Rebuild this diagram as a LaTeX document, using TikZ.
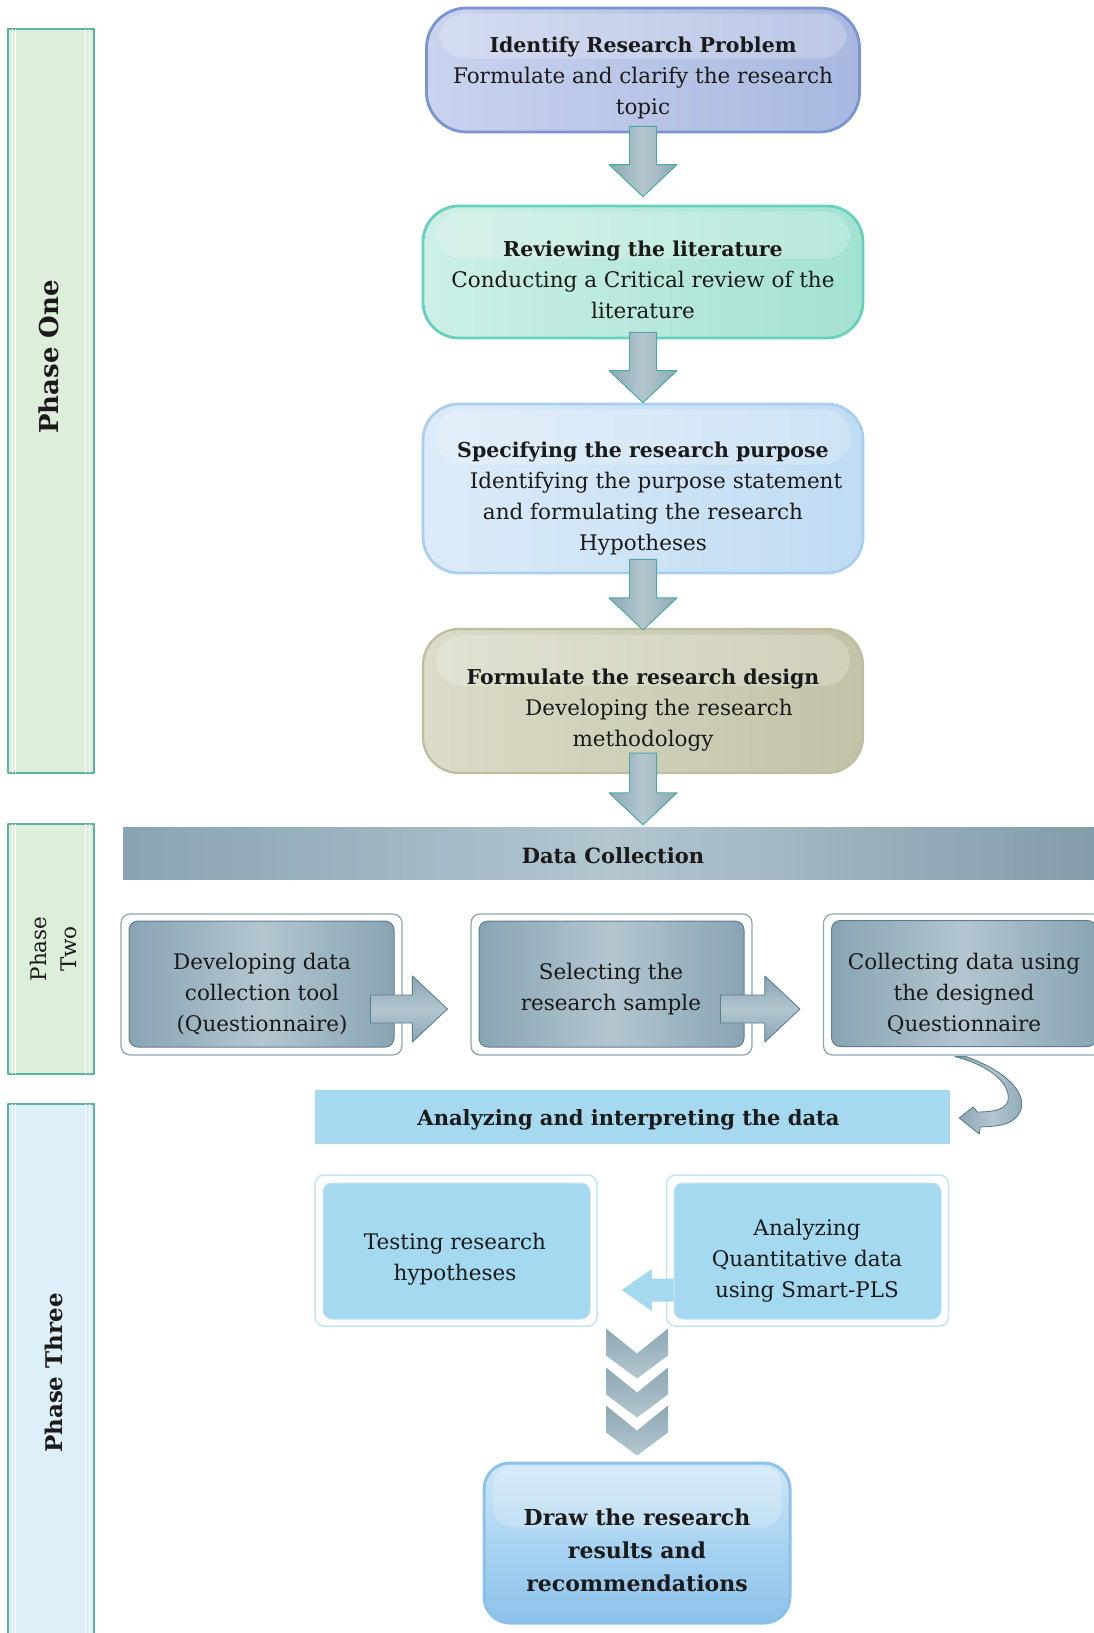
\documentclass[tikz,border=0pt]{standalone}
\usepackage{fontspec}
\setmainfont{DejaVu Serif}
\usetikzlibrary{calc}
\definecolor{phgreen}{HTML}{DDEEDA}
\definecolor{phblue}{HTML}{DDEFF8}
\definecolor{phborder}{HTML}{5AB4A6}
\definecolor{bAL}{HTML}{C9D3EE}
\definecolor{bAR}{HTML}{A8B8DF}
\definecolor{bAD}{HTML}{7A93D1}
\definecolor{bBL}{HTML}{CDEFE7}
\definecolor{bBR}{HTML}{A3E2D3}
\definecolor{bBD}{HTML}{66D2BB}
\definecolor{bCL}{HTML}{DCEBF9}
\definecolor{bCR}{HTML}{C0DCF3}
\definecolor{bCD}{HTML}{A9CFF0}
\definecolor{bDL}{HTML}{DBDBC8}
\definecolor{bDR}{HTML}{C3C2A7}
\definecolor{bDD}{HTML}{BDBD9F}
\definecolor{gbD}{HTML}{88A4B3}
\definecolor{gbL}{HTML}{B3C6D0}
\definecolor{gbB}{HTML}{5B7F8F}
\definecolor{arD}{HTML}{8DA8B4}
\definecolor{arL}{HTML}{B4C7CF}
\definecolor{arB}{HTML}{4DA9A3}
\definecolor{lb}{HTML}{A5D9EF}
\definecolor{lbB}{HTML}{C3E5F3}
\definecolor{fL}{HTML}{D0E7F8}
\definecolor{fM}{HTML}{A9D3F1}
\definecolor{fD}{HTML}{8CC2EA}
\definecolor{ink}{HTML}{1A1A1A}
\newcommand\ttl[1]{{\bfseries\fontsize{20.5}{31}\selectfont #1}}
\newcommand\blkdown[4]{%
  \draw[blkarrow] ($(#1.south)+(-13.5,#3)$) -- ($(#1.south |- #2.north)+(-13.5,#4-32)$)
   -- ($(#1.south |- #2.north)+(-34,#4-32)$) -- ($(#1.south |- #2.north)+(0,#4)$)
   -- ($(#1.south |- #2.north)+(34,#4-32)$) -- ($(#1.south |- #2.north)+(13.5,#4-32)$)
   -- ($(#1.south)+(13.5,#3)$) -- cycle;}
\newcommand\blkright[2]{%
  \draw[blkright] ($(#1.east)+(-24,11)$) -- ($(#1.east -| #2.west)+(-58,11)$)
   -- ($(#1.east -| #2.west)+(-58,-8)$) -- ($(#1.east -| #2.west)+(-23,25)$)
   -- ($(#1.east -| #2.west)+(-58,58)$) -- ($(#1.east -| #2.west)+(-58,39)$)
   -- ($(#1.east)+(-24,39)$) -- cycle;}
\newcommand\blkleft[2]{%
  \fill[lb] ($(#1.west)+(0,27.5)$) -- ($(#1.west -| #2.east)+(54,27.5)$)
   -- ($(#1.west -| #2.east)+(54,18)$) -- ($(#1.west -| #2.east)+(24,39)$)
   -- ($(#1.west -| #2.east)+(54,60)$) -- ($(#1.west -| #2.east)+(54,50.5)$)
   -- ($(#1.west)+(0,50.5)$) -- cycle;}
\newcommand\chev[2]{%
  \draw[chevron] ($(#1.north)+(-31,#2)$) -- ($(#1.north)+(0,#2+25)$) -- ($(#1.north)+(31,#2)$)
   -- ($(#1.north)+(31,#2+27)$) -- ($(#1.north)+(0,#2+50)$) -- ($(#1.north)+(-31,#2+27)$) -- cycle;}
\begin{document}
\begin{tikzpicture}[x=1pt,y=-1pt,line join=round,
  txt/.style={align=center,inner sep=0pt,text=ink,font=\fontsize{21.5}{31}\selectfont},
  bigbox/.style={rounded corners=36pt,line width=2.8pt,minimum width=440pt},
  phase/.style={draw=phborder,line width=1.4pt,minimum width=86pt},
  blkarrow/.style={draw=arB,line width=1pt,left color=arD,right color=arD,middle color=arL},
  blkright/.style={draw=gbB,line width=0.9pt,top color=gbD,bottom color=gbD,middle color=gbL},
  chevron/.style={draw=none,top color=arD,bottom color=arL},
  frameA/.style={draw=gbB!70,fill=white,line width=1.2pt,rounded corners=9pt,minimum width=281pt,minimum height=141pt},
  gbox/.style={draw=gbB,line width=1pt,rounded corners=9pt,left color=gbD,right color=gbD,middle color=gbL,minimum width=265pt,minimum height=126pt},
  frameB/.style={draw=lbB,fill=white,line width=1.5pt,rounded corners=9pt,minimum width=282pt,minimum height=151pt},
  lbox/.style={draw=lbB!80!lb,line width=1pt,fill=lb,rounded corners=9pt,minimum width=267pt,minimum height=136pt},
  gloss/.style={white,opacity=0.22}]
\useasboundingbox (0,0) rectangle (1094,1633);
\clip (0,0) rectangle (1094,1633);
\fill[white] (0,0) rectangle (1094,1633);

% phase bars
\node[phase,fill=phgreen,minimum height=744pt] (p1) at (51,401) {};
\node[phase,fill=phgreen,minimum height=250pt] (p2) at (51,949) {};
\node[phase,fill=phblue,minimum height=536pt] (p3) at (51,1372) {};
\foreach \p in {p1,p2,p3}{
  \draw[white,line width=0.8pt] ($(\p.north west)+(5,1)$) -- ($(\p.south west)+(5,-1)$);
  \draw[white,line width=0.8pt] ($(\p.north west)+(8,1)$) -- ($(\p.south west)+(8,-1)$);
  \draw[white,line width=0.8pt] ($(\p.north east)+(-5,1)$) -- ($(\p.south east)+(-5,-1)$);
  \draw[white,line width=0.8pt] ($(\p.north east)+(-9,1)$) -- ($(\p.south east)+(-9,-1)$);
}
\node[rotate=90,text=ink,font=\bfseries\fontsize{26}{30}\selectfont] (l1) at (49,357) {Phase One};
\node[rotate=90,align=center,text=ink,font=\fontsize{21.5}{30}\selectfont] (l2) at (53,949) {Phase\\Two};
\node[rotate=90,text=ink,font=\bfseries\fontsize{23}{28}\selectfont] (l3) at (54,1373) {Phase Three};

% phase one boxes
\node[bigbox,draw=bAD,left color=bAL,right color=bAR,minimum width=433pt,minimum height=124pt,rounded corners=40pt] (b1) at (643,70) {};
\fill[gloss,rounded corners=26pt] ($(b1.north west)+(14,7)$) rectangle ($(b1.north east)+(-14,52)$);
\node[txt] (t1) at ($(b1.center)+(0,8)$) {\ttl{Identify Research Problem}\\Formulate and clarify the research\\topic};

\node[bigbox,draw=bBD,left color=bBL,right color=bBR,minimum height=132pt] (b2) at (643,272) {};
\fill[gloss,rounded corners=26pt] ($(b2.north west)+(14,7)$) rectangle ($(b2.north east)+(-14,54)$);
\node[txt] (t2) at ($(b2.center)+(0,8)$) {\ttl{Reviewing the literature}\\Conducting a Critical review of the\\literature};

\node[bigbox,draw=bCD,left color=bCL,right color=bCR,minimum height=169pt] (b3) at (643,488.5) {};
\fill[gloss,rounded corners=26pt] ($(b3.north west)+(14,7)$) rectangle ($(b3.north east)+(-14,62)$);
\node[txt] (t3) at ($(b3.center)+(0,10)$) {\ttl{Specifying the research purpose}\\\hspace*{26pt}Identifying the purpose statement\\and formulating the research\\Hypotheses};

\node[bigbox,draw=bDD,left color=bDL,right color=bDR,minimum height=144pt,line width=2.2pt] (b4) at (643,701) {};
\fill[gloss,rounded corners=26pt] ($(b4.north west)+(14,7)$) rectangle ($(b4.north east)+(-14,58)$);
\node[txt] (t4) at ($(b4.center)+(0,9)$) {\ttl{Formulate the research design}\\\hspace*{32pt}Developing the research\\methodology};

% data collection bar
\node[minimum width=980pt,minimum height=52pt,inner sep=0pt,left color=gbD,right color=gbD!95!black,middle color=gbL] (dc) at (613,853) {};
\node[txt,font=\bfseries\fontsize{21}{28}\selectfont] (tdc) at ($(dc.center)+(0,3)$) {Data Collection};

\blkdown{b1}{b2}{-7}{-8}
\blkdown{b2}{b3}{-7}{0}
\blkdown{b3}{b4}{-15}{2}
\blkdown{b4}{dc}{-21}{-2}

% phase two boxes
\node[frameA] (oA) at (261.5,984.5) {};
\node[gbox] (iA) at (261.5,984) {};
\node[txt] (tA) at (262,994) {Developing data\\collection tool\\(Questionnaire)};
\node[frameA] (oB) at (611.5,984.5) {};
\node[gbox] (iB) at (611.5,984) {};
\node[txt] (tB) at (611,989) {Selecting the\\research sample};
\node[frameA] (oC) at (964,984.5) {};
\node[gbox] (iC) at (964,983.5) {};
\node[txt] (tC) at (964,994) {Collecting data using\\the designed\\Questionnaire};
\blkright{iA}{oB}
\blkright{iB}{oC}

% analyzing bar
\node[fill=lb,minimum width=635pt,minimum height=54pt,inner sep=0pt] (an) at (632.5,1117) {};
\node[txt,font=\bfseries\fontsize{21}{28}\selectfont] (tan) at ($(an.center)+(-4,3)$) {Analyzing and interpreting the data};

% curved arrow from collecting box to analyzing bar
\draw[draw=gbB,line width=0.9pt,left color=gbD,right color=gbD,middle color=gbL]
  ($(oC.south)+(2,1)$) .. controls ($(oC.south)+(44,16)$) and ($(oC.south)+(66,40)$) .. ($(oC.south)+(55,58)$)
  .. controls ($(oC.south)+(47,71)$) and ($(an.east)+(45,9)$) .. ($(an.east)+(30,10)$)
  -- ($(an.east)+(29,17)$) -- ($(an.east)+(9,1)$) -- ($(an.east)+(23,-10)$) -- ($(an.east)+(27,-5)$)
  .. controls ($(an.east)+(43,-5)$) and ($(oC.south)+(42,54)$) .. ($(oC.south)+(44,45)$)
  .. controls ($(oC.south)+(47,28)$) and ($(oC.south)+(26,10)$) .. ($(oC.south)+(-9,1)$) -- cycle;

% phase three boxes
\node[frameB] (oL) at (456,1250.5) {};
\node[lbox] (iL) at (456.5,1251) {};
\node[txt] (tL) at (455,1259) {Testing research\\hypotheses};
\node[frameB] (oR) at (807.5,1250.5) {};
\node[lbox] (iR) at (807.5,1251) {};
\node[txt] (tR) at (807,1261) {Analyzing\\Quantitative data\\using Smart-PLS};
\blkleft{iR}{oL}

% final box
\node[rounded corners=26pt,line width=3pt,draw=fD,top color=fL,bottom color=fD,middle color=fM,minimum width=306pt,minimum height=160pt] (fin) at (637,1543) {};
\fill[gloss,rounded corners=20pt] ($(fin.north west)+(10,5)$) rectangle ($(fin.north east)+(-10,66)$);
\node[txt,font=\bfseries\fontsize{22}{33}\selectfont] (tfin) at ($(fin.center)+(0,7)$) {Draw the research\\results and\\recommendations};

\chev{fin}{-133}
\chev{fin}{-94}
\chev{fin}{-56}
\end{tikzpicture}
\end{document}
